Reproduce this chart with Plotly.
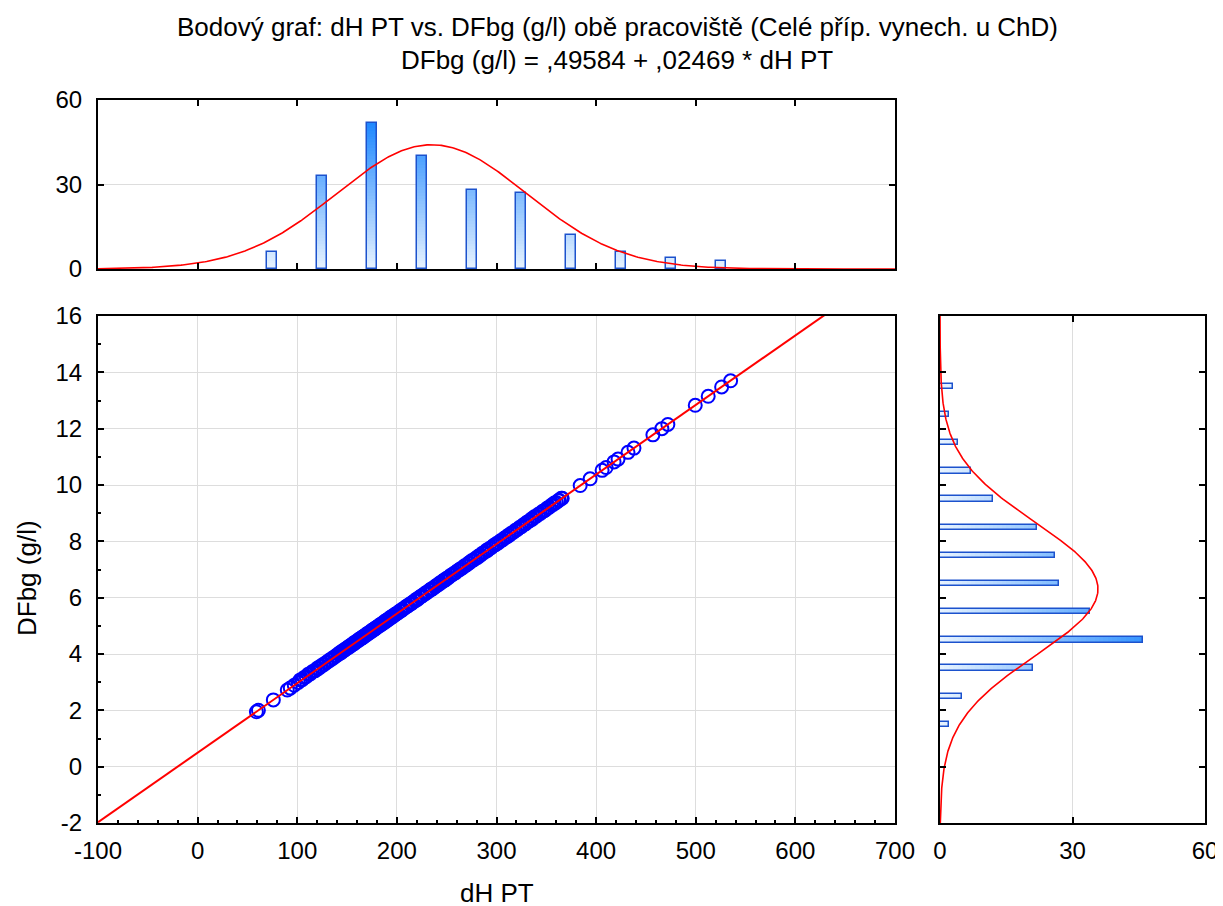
import numpy as np
import plotly.graph_objects as go

# ---------------- data ----------------
dh_pt = [
    59, 61, 76, 90, 93, 97,
    101, 103, 105, 107, 109, 111, 113, 115, 117, 118, 120, 121, 123, 124, 126, 127,
    129, 130, 132, 133, 135, 136, 138, 139, 141, 142, 143, 144, 145, 146, 147, 148, 149,
    150, 151, 152, 153, 154, 155, 156, 157, 158, 159, 160, 161, 162, 163, 164, 165,
    165.5, 166, 167, 168, 169, 170, 171, 172, 173, 174, 175, 176, 177, 178, 178.5, 179,
    180, 181, 182, 183, 184, 185, 186, 187, 188, 189, 190, 191, 192, 193, 194, 195,
    196, 197, 198, 199,
    200, 201, 203, 204, 205, 206, 208, 209, 210, 211, 213, 214, 215, 216, 218, 219,
    220, 221, 223, 224, 225, 226, 228, 229, 230, 231, 233, 234, 235, 236, 238, 239,
    240, 242, 243, 244, 246, 247, 248, 249,
    250, 252, 254, 256, 257, 259, 261, 263, 264, 266, 268, 270, 272, 273, 275, 277,
    279, 281, 282, 284, 286, 288, 290, 291, 293, 295, 297, 299,
    300, 302, 304, 306, 308, 310, 312, 313, 315, 317, 319, 321, 323, 325, 327, 329,
    331, 333, 335, 336, 338, 340, 342, 344, 346, 348, 349,
    351, 353, 355, 357, 358, 360, 362, 363, 365, 366, 384, 394,
    406, 410, 418, 422, 432, 438,
    457, 466, 472, 499.5,
    512.5, 526, 535,
]
dfbg = [
    1.95, 2.00, 2.37, 2.72, 2.79, 2.89,
    2.99, 3.08, 3.09, 3.17, 3.19, 3.28, 3.29, 3.37, 3.40, 3.41, 3.49, 3.48, 3.56, 3.56, 3.63, 3.63,
    3.70, 3.71, 3.78, 3.78, 3.85, 3.85, 3.92, 3.93, 4.00, 4.00, 4.05, 4.05, 4.10, 4.10, 4.15, 4.15, 4.18,
    4.22, 4.22, 4.27, 4.27, 4.32, 4.32, 4.37, 4.37, 4.42, 4.42, 4.47, 4.47, 4.52, 4.52, 4.57, 4.57,
    4.60, 4.59, 4.64, 4.64, 4.69, 4.69, 4.74, 4.74, 4.79, 4.79, 4.84, 4.84, 4.89, 4.89, 4.92, 4.92,
    4.96, 4.97, 5.01, 5.01, 5.06, 5.06, 5.11, 5.11, 5.16, 5.16, 5.21, 5.21, 5.26, 5.26, 5.31, 5.31,
    5.36, 5.36, 5.40, 5.41,
    5.45, 5.46, 5.53, 5.53, 5.58, 5.58, 5.65, 5.66, 5.70, 5.71, 5.77, 5.78, 5.82, 5.83, 5.90, 5.90,
    5.95, 5.95, 6.02, 6.03, 6.07, 6.08, 6.15, 6.15, 6.19, 6.20, 6.27, 6.27, 6.32, 6.32, 6.39, 6.40,
    6.44, 6.47, 6.52, 6.52, 6.59, 6.59, 6.64, 6.64,
    6.69, 6.72, 6.79, 6.82, 6.86, 6.89, 6.96, 6.99, 7.03, 7.06, 7.13, 7.16, 7.23, 7.24, 7.31, 7.34,
    7.40, 7.43, 7.48, 7.51, 7.58, 7.61, 7.68, 7.68, 7.75, 7.78, 7.85, 7.88,
    7.92, 7.95, 8.02, 8.05, 8.12, 8.15, 8.22, 8.22, 8.29, 8.32, 8.39, 8.42, 8.49, 8.52, 8.59, 8.62,
    8.69, 8.72, 8.79, 8.79, 8.87, 8.89, 8.96, 8.99, 9.06, 9.09, 9.11,
    9.18, 9.21, 9.28, 9.31, 9.36, 9.38, 9.45, 9.46, 9.53, 9.53, 9.98, 10.22,
    10.52, 10.62, 10.82, 10.92, 11.16, 11.31,
    11.78, 12.00, 12.15, 12.83,
    13.15, 13.48, 13.70,
]

dh_bin_centers = [75, 125, 175, 225, 275, 325, 375, 425, 475, 525]
dh_bin_counts = [6, 33, 52, 40, 28, 27, 12, 6, 4, 3]
dh_bin_width = 50

df_bin_centers = [1.5, 2.5, 3.5, 4.5, 5.5, 6.5, 7.5, 8.5, 9.5, 10.5, 11.5, 12.5, 13.5]
df_bin_counts = [2, 5, 21, 46, 34, 27, 26, 22, 12, 7, 4, 2, 3]
df_bin_width = 1

INTERCEPT = 0.49584
SLOPE = 0.02469

x_tickvals = [-100, 0, 100, 200, 300, 400, 500, 600, 700]
x_ticktext = ["-100", "0", "100", "200", "300", "400", "500", "600", "700"]
y_tickvals = [-2, 0, 2, 4, 6, 8, 10, 12, 14, 16]
y_ticktext = ["-2", "0", "2", "4", "6", "8", "10", "12", "14", "16"]

title_line1 = "Bodový graf: dH PT vs. DFbg (g/l) obě pracoviště (Celé příp. vynech. u ChD)"
title_line2 = "DFbg (g/l) = ,49584 + ,02469 * dH PT"
x_title = "dH PT"
y_title = "DFbg (g/l)"

# ---------------- styling ----------------
FONT = "Liberation Sans, Arial, sans-serif"
W, H = 1223, 906
OFF = 8  # page body margin
PALE = np.array([232, 243, 255])
DEEP = np.array([30, 136, 255])
OUTLINE = "rgb(28,82,205)"


def shade(v, vmax=52.0):
    t = min(max(v / vmax, 0.0), 1.0)
    c = PALE + (DEEP - PALE) * t
    return "rgb(%d,%d,%d)" % tuple(c.round().astype(int))


def px_x(p):
    return (p - OFF) / W


def px_y(p):
    return 1 - (p - OFF) / H


main_xd = [px_x(98), px_x(895)]
main_yd = [px_y(823), px_y(316)]
top_yd = [px_y(269), px_y(100)]
right_xd = [px_x(940), px_x(1205)]

fig = go.Figure()

# ---- gradient bars (top histogram): for each bin draw levels tallest->shortest
gx, gy, gc = [], [], []
for c, n in zip(dh_bin_centers, dh_bin_counts):
    for k in range(n, 0, -1):
        gx.append(c)
        gy.append(k)
        gc.append(shade(k - 0.5))
fig.add_trace(go.Bar(x=gx, y=gy, width=10, marker=dict(color=gc, line=dict(width=0)),
                     xaxis="x2", yaxis="y2", showlegend=False, hoverinfo="skip"))
fig.add_trace(go.Bar(x=dh_bin_centers, y=dh_bin_counts, width=10,
                     marker=dict(color="rgba(0,0,0,0)", line=dict(color=OUTLINE, width=1.5)),
                     xaxis="x2", yaxis="y2", showlegend=False))

# ---- gradient bars (right histogram, horizontal)
hx, hy, hc = [], [], []
for c, n in zip(df_bin_centers, df_bin_counts):
    for k in range(n, 0, -1):
        hx.append(k)
        hy.append(c)
        hc.append(shade(k - 0.5))
fig.add_trace(go.Bar(x=hx, y=hy, width=0.19, orientation="h",
                     marker=dict(color=hc, line=dict(width=0)),
                     xaxis="x3", yaxis="y3", showlegend=False, hoverinfo="skip"))
fig.add_trace(go.Bar(x=df_bin_counts, y=df_bin_centers, width=0.19, orientation="h",
                     marker=dict(color="rgba(0,0,0,0)", line=dict(color=OUTLINE, width=1.5)),
                     xaxis="x3", yaxis="y3", showlegend=False))

# ---- normal curves fitted to the data
xa = np.array(dh_pt, dtype=float)
ya = np.array(dfbg, dtype=float)
N = len(xa)
mx, sx = xa.mean(), xa.std(ddof=1)
my, sy = ya.mean(), ya.std(ddof=1)
gridx = np.linspace(-100, 700, 500)
densx = N * dh_bin_width * np.exp(-0.5 * ((gridx - mx) / sx) ** 2) / (sx * np.sqrt(2 * np.pi))
fig.add_trace(go.Scatter(x=gridx, y=densx, mode="lines", line=dict(color="red", width=1.6),
                         xaxis="x2", yaxis="y2", showlegend=False))
gridy = np.linspace(-2, 16, 500)
densy = N * df_bin_width * np.exp(-0.5 * ((gridy - my) / sy) ** 2) / (sy * np.sqrt(2 * np.pi))
fig.add_trace(go.Scatter(x=densy, y=gridy, mode="lines", line=dict(color="red", width=1.6),
                         xaxis="x3", yaxis="y3", showlegend=False))

# ---- scatter + regression line
fig.add_trace(go.Scatter(x=dh_pt, y=dfbg, mode="markers",
                         marker=dict(symbol="circle-open", size=13, color="#0000ff",
                                     line=dict(width=2, color="#0000ff")),
                         xaxis="x", yaxis="y", showlegend=False, cliponaxis=True))
lx = np.array([-100.0, 700.0])
fig.add_trace(go.Scatter(x=lx, y=INTERCEPT + SLOPE * lx, mode="lines",
                         line=dict(color="red", width=2), xaxis="x", yaxis="y",
                         showlegend=False))

tickfont = dict(family=FONT, size=24, color="black")
base_ax = dict(showline=True, linecolor="black", linewidth=2, ticks="inside",
               tickcolor="black", tickwidth=1.5, ticklen=6, gridcolor="#dddddd",
               gridwidth=1, zeroline=False, tickfont=tickfont, automargin=False)

fig.update_layout(
    width=W, height=H, margin=dict(l=0, r=0, t=0, b=0),
    paper_bgcolor="white", plot_bgcolor="white", barmode="overlay", bargap=0,
    xaxis=dict(base_ax, domain=main_xd, range=[-100, 700], tickmode="array",
               tickvals=x_tickvals, ticktext=x_ticktext,
               anchor="y", mirror=True, showgrid=True, ticklabelstandoff=5,
               minor=dict(dtick=20, tick0=0, ticks="inside", ticklen=3, tickcolor="black",
                          showgrid=False)),
    yaxis=dict(base_ax, domain=main_yd, range=[-2, 16], tickmode="array",
               tickvals=y_tickvals, ticktext=y_ticktext,
               anchor="x", mirror=True, showgrid=True, ticklabelstandoff=9,
               minor=dict(dtick=1, tick0=0, ticks="inside", ticklen=3, tickcolor="black",
                          showgrid=False)),
    xaxis2=dict(base_ax, domain=main_xd, range=[-100, 700], dtick=100, tick0=0,
                anchor="y2", mirror="allticks", showgrid=False, showticklabels=False),
    yaxis2=dict(base_ax, domain=top_yd, range=[0, 60], dtick=30, anchor="x2",
                mirror="allticks", showgrid=True, ticklabelstandoff=9),
    xaxis3=dict(base_ax, domain=right_xd, range=[0, 60], dtick=30, anchor="y3",
                mirror="allticks", showgrid=True, ticklabelstandoff=5),
    yaxis3=dict(base_ax, domain=main_yd, range=[-2, 16], dtick=2, tick0=0, anchor="x3",
                mirror="allticks", showgrid=False, showticklabels=False),
    annotations=[
        dict(text=title_line1, x=px_x(617), y=px_y(27), xref="paper", yref="paper",
             showarrow=False, xanchor="center", yanchor="middle",
             font=dict(family=FONT, size=26, color="black")),
        dict(text=title_line2, x=px_x(617), y=px_y(60), xref="paper", yref="paper",
             showarrow=False, xanchor="center", yanchor="middle",
             font=dict(family=FONT, size=26, color="black")),
        dict(text=x_title, x=px_x(497), y=px_y(893), xref="paper", yref="paper",
             showarrow=False, xanchor="center", yanchor="middle",
             font=dict(family=FONT, size=26, color="black")),
        dict(text=y_title, x=px_x(27), y=px_y(578), xref="paper", yref="paper",
             showarrow=False, xanchor="center", yanchor="middle", textangle=-90,
             font=dict(family=FONT, size=26, color="black")),
    ],
)

fig.write_html("out.html")
